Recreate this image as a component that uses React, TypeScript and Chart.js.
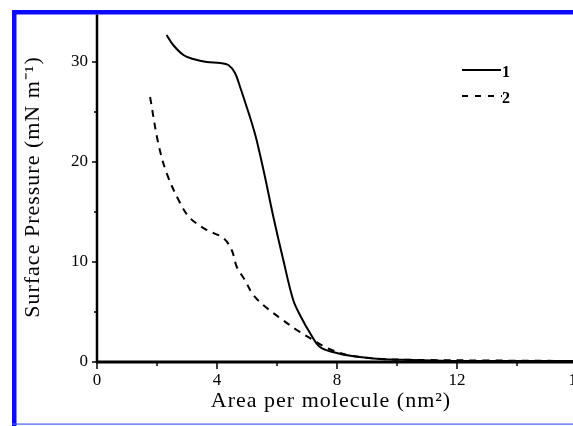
import React, { useEffect, useRef } from "react";
import { Chart, registerables } from "chart.js";

Chart.register(...registerables);

const area1 = [2.32, 2.54, 2.88, 3.21, 3.66, 4.1, 4.38, 4.6, 4.77, 4.99, 5.16, 5.32, 5.6, 5.88, 6.21, 6.54, 6.8, 7.1, 7.43, 7.99, 8.5, 9.43, 10.5, 12, 14, 16];
const pressure1 = [32.7, 31.7, 30.7, 30.3, 30.0, 29.9, 29.7, 28.9, 27.5, 25.5, 23.9, 22.2, 18.5, 14.5, 10.2, 6.2, 4.5, 2.9, 1.5, 0.9, 0.6, 0.3, 0.2, 0.1, 0.1, 0.1];
const area2 = [1.77, 2.04, 2.32, 2.77, 3.1, 3.66, 4.21, 4.49, 4.66, 4.93, 5.21, 5.66, 6.1, 6.66, 7.21, 7.6, 8.0, 8.5, 9.5, 11, 13, 16];
const pressure2 = [26.5, 21.9, 18.9, 15.9, 14.4, 13.2, 12.4, 11.2, 9.5, 8.2, 6.7, 5.4, 4.4, 3.2, 2.2, 1.5, 1.0, 0.6, 0.3, 0.2, 0.15, 0.1];
const xTicks = [0, 4, 8, 12, 16];
const xMinor = [2, 6, 10, 14];
const yTicks = [0, 10, 20, 30];
const yMinor = [5, 15, 25];
const seriesLabels = ["1", "2"];
const xTitle = "Area per molecule (nm²)";
const yTitle = "Surface Pressure (mN m⁻¹)";

const FONT = "'Liberation Serif', 'Times New Roman', serif";

const decorPlugin = {
  id: "decor",
  afterDraw(chart: any) {
    const ctx = chart.ctx as CanvasRenderingContext2D;
    const xs = chart.scales.x;
    const ys = chart.scales.y;
    const area = chart.chartArea;
    ctx.save();
    // blue frame
    ctx.fillStyle = "#0a0aff";
    ctx.fillRect(12, 10, 4.5, 420);
    ctx.fillRect(12, 10, 600, 4.5);
    ctx.fillStyle = "#4a5ee8";
    ctx.fillRect(12, 423.5, 600, 1.2);

    ctx.strokeStyle = "#000";
    ctx.fillStyle = "#000";
    // axes lines
    const x0 = xs.getPixelForValue(0);
    const y0 = ys.getPixelForValue(0);
    ctx.lineWidth = 2.5;
    ctx.beginPath();
    ctx.moveTo(x0, 14.5);
    ctx.lineTo(x0, y0 + 1);
    ctx.stroke();
    ctx.lineWidth = 3;
    ctx.beginPath();
    ctx.moveTo(x0 - 1, y0);
    ctx.lineTo(area.right + 20, y0);
    ctx.stroke();

    // ticks
    ctx.lineWidth = 1.5;
    xTicks.forEach((v) => {
      const p = xs.getPixelForValue(v);
      ctx.beginPath();
      ctx.moveTo(p, y0);
      ctx.lineTo(p, y0 + 7);
      ctx.stroke();
    });
    xMinor.forEach((v) => {
      const p = xs.getPixelForValue(v);
      ctx.beginPath();
      ctx.moveTo(p, y0);
      ctx.lineTo(p, y0 + 4);
      ctx.stroke();
    });
    yTicks.forEach((v) => {
      const p = ys.getPixelForValue(v);
      ctx.beginPath();
      ctx.moveTo(x0, p);
      ctx.lineTo(x0 - 5, p);
      ctx.stroke();
    });
    yMinor.forEach((v) => {
      const p = ys.getPixelForValue(v);
      ctx.beginPath();
      ctx.moveTo(x0, p);
      ctx.lineTo(x0 - 3, p);
      ctx.stroke();
    });

    // tick labels
    ctx.font = `17px ${FONT}`;
    ctx.textAlign = "center";
    ctx.textBaseline = "middle";
    xTicks.forEach((v) => {
      ctx.fillText(String(v), xs.getPixelForValue(v), 381);
    });
    ctx.textAlign = "right";
    yTicks.forEach((v) => {
      ctx.fillText(String(v), 88, ys.getPixelForValue(v));
    });

    // titles
    ctx.font = `22px ${FONT}`;
    (ctx as any).letterSpacing = "1px";
    ctx.textAlign = "center";
    ctx.textBaseline = "alphabetic";
    ctx.fillText(xTitle, 331, 407);
    ctx.save();
    ctx.translate(39, 187);
    ctx.rotate(-Math.PI / 2);
    ctx.fillText(yTitle, 0, 0);
    ctx.restore();
    (ctx as any).letterSpacing = "0px";

    // legend
    ctx.lineWidth = 2.2;
    ctx.beginPath();
    ctx.moveTo(462, 70);
    ctx.lineTo(501, 70);
    ctx.stroke();
    ctx.setLineDash([6, 7]);
    ctx.lineWidth = 2;
    ctx.beginPath();
    ctx.moveTo(462, 96);
    ctx.lineTo(502, 96);
    ctx.stroke();
    ctx.setLineDash([]);
    ctx.font = `bold 16px ${FONT}`;
    ctx.textAlign = "left";
    ctx.textBaseline = "alphabetic";
    ctx.fillText(seriesLabels[0], 502, 77);
    ctx.fillText(seriesLabels[1], 502, 103);
    ctx.restore();
  },
};

export default function App() {
  const ref = useRef<HTMLCanvasElement | null>(null);
  useEffect(() => {
    if (!ref.current) return;
    const chart = new Chart(ref.current, {
      type: "scatter",
      data: {
        datasets: [
          {
            label: seriesLabels[0],
            data: area1.map((x, i) => ({ x, y: pressure1[i] })),
            showLine: true,
            borderColor: "#000",
            borderWidth: 2,
            pointRadius: 0,
            tension: 0.35,
          },
          {
            label: seriesLabels[1],
            data: area2.map((x, i) => ({ x, y: pressure2[i] })),
            showLine: true,
            borderColor: "#000",
            borderWidth: 2,
            borderDash: [7, 6],
            pointRadius: 0,
            tension: 0.35,
          },
        ],
      },
      options: {
        responsive: false,
        animation: false,
        layout: { padding: { left: 97, right: 23, top: 15, bottom: 64 } },
        plugins: { legend: { display: false }, tooltip: { enabled: false } },
        scales: {
          x: { type: "linear", min: 0, max: 16, display: false },
          y: { type: "linear", min: 0, max: 34.7, display: false },
        },
      },
      plugins: [decorPlugin],
    });
    return () => chart.destroy();
  }, []);
  return (
    <div
      style={{
        position: "fixed",
        left: 0,
        top: 0,
        width: 573,
        height: 426,
        overflow: "hidden",
        background: "#fff",
      }}
    >
      <canvas ref={ref} width={600} height={426} style={{ display: "block" }} />
    </div>
  );
}
